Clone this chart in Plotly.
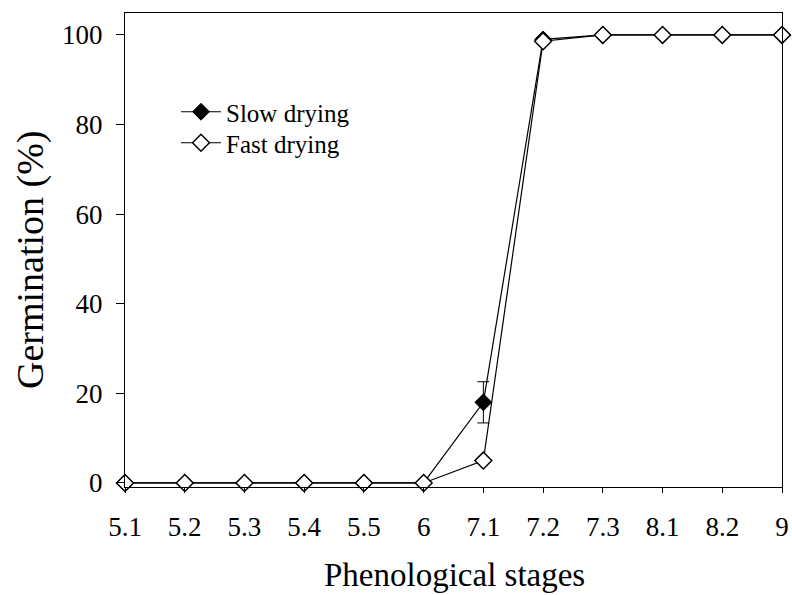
import plotly.graph_objects as go

stages = ["5.1", "5.2", "5.3", "5.4", "5.5", "6", "7.1", "7.2", "7.3", "8.1", "8.2", "9"]
slow = [0, 0, 0, 0, 0, 0, 18, 99, 100, 100, 100, 100]
slow_err = [0, 0, 0, 0, 0, 0, 4.6, 0, 0, 0, 0, 0]
fast = [0, 0, 0, 0, 0, 0, 5, 98.6, 100, 100, 100, 100]
y_ticks = [0, 20, 40, 60, 80, 100]

font = "Liberation Serif, Times New Roman, serif"

W, H = 792, 595
L, R, T, B = 125, 10, 13, 108
pw, ph = W - L - R, H - T - B

def px_x(x):  # window pixel -> paper coordinate
    return (x - L) / pw

def px_y(y):
    return (H - B - y) / ph

fig = go.Figure()
fig.add_trace(go.Scatter(
    x=stages, y=slow, name="Slow drying", mode="lines+markers",
    line=dict(color="black", width=1.2),
    marker=dict(symbol="diamond", size=13, color="black", line=dict(color="black", width=1)),
    error_y=dict(type="data", array=slow_err, visible=True, color="black", thickness=1, width=6),
    cliponaxis=False, legend="legend",
))
fig.add_trace(go.Scatter(
    x=stages, y=fast, name="Fast drying", mode="lines+markers",
    line=dict(color="black", width=1.2),
    marker=dict(symbol="diamond", size=13, color="white", line=dict(color="black", width=1.5)),
    cliponaxis=False, legend="legend2",
))

leg_common = dict(xanchor="left", yanchor="middle",
                  font=dict(family=font, size=25, color="black"),
                  bgcolor="rgba(0,0,0,0)", itemwidth=40, borderwidth=0)

fig.update_layout(
    width=W, height=H,
    margin=dict(l=L, r=R, t=T, b=B, autoexpand=False),
    paper_bgcolor="white", plot_bgcolor="white",
    font=dict(family=font, size=27, color="black"),
    showlegend=True,
    legend=dict(x=px_x(176), y=px_y(112), **leg_common),
    legend2=dict(x=px_x(176), y=px_y(143), **leg_common),
    xaxis=dict(
        type="category", range=[0, 11], automargin=False,
        showline=True, linecolor="black", linewidth=1, mirror=True,
        ticks="outside", ticklen=5, tickcolor="black", showgrid=False, zeroline=False,
        tickfont=dict(family=font, size=27), ticklabelstandoff=11,
    ),
    yaxis=dict(
        range=[-0.9, 104.9], tickvals=y_ticks, automargin=False,
        showline=True, linecolor="black", linewidth=1, mirror=True,
        ticks="outside", ticklen=8, tickcolor="black", showgrid=False, zeroline=False,
        tickfont=dict(family=font, size=27), ticklabelstandoff=8,
    ),
    annotations=[
        dict(text="Phenological stages", xref="paper", yref="paper",
             x=px_x(454), y=px_y(575), xanchor="center", yanchor="middle",
             showarrow=False, font=dict(family=font, size=33, color="black")),
        dict(text="Germination (%)", xref="paper", yref="paper",
             x=px_x(30), y=px_y(260), xanchor="center", yanchor="middle", textangle=-90,
             showarrow=False, font=dict(family=font, size=38, color="black")),
    ],
)

fig.write_html(
    "out.html",
    config={"displayModeBar": False},
    post_script="document.body.style.margin='0px';document.body.style.overflow='hidden';",
)
